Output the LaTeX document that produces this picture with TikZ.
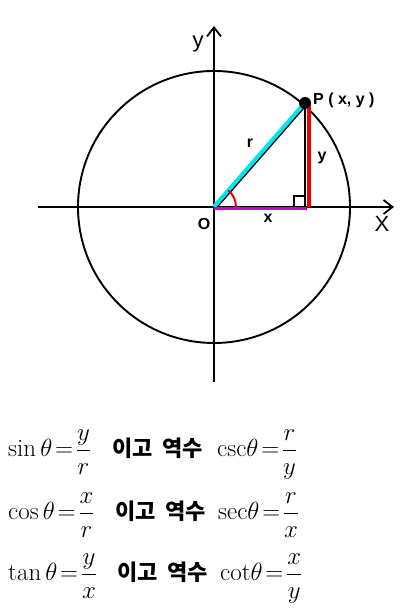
\documentclass[tikz,border=0pt]{standalone}
\usepackage{amsmath,amssymb}
\usepackage{fontspec}
\usepackage{tikz}
\usetikzlibrary{arrows.meta,positioning,calc}
\newfontfamily\lab{Liberation Sans}
\newfontfamily\kor{Noto Sans CJK KR}
\definecolor{radioc}{RGB}{0,230,240}
\definecolor{catx}{RGB}{200,0,200}
\definecolor{caty}{RGB}{240,0,0}

\begin{document}
\begin{tikzpicture}[x=1pt,y=1pt,
  ax/.style={line width=1.8pt,-{Straight Barb[length=9pt,width=14pt,line width=1.8pt]}},
  et/.style={font=\lab\bfseries\fontsize{16}{18}\selectfont,inner sep=0pt},
  ej/.style={font=\lab\fontsize{22}{24}\selectfont,inner sep=0pt},
  fm/.style={font=\fontsize{25}{30}\selectfont,inner sep=0pt,anchor=base west},
  hk/.style={font=\kor\bfseries\fontsize{22}{26}\selectfont,inner sep=0pt,anchor=base west}]
\useasboundingbox (0,0) rectangle (420,610);
% Circulo, ejes y triangulo del punto P
\coordinate (O) at (214,403);
\coordinate (P) at (305,507);
\coordinate (xi) at (38,403); \coordinate (xf) at (394,403);
\coordinate (yi) at (214,228); \coordinate (yf) at (214,584);
\coordinate (Q) at (305,403);
\draw[line width=1.9pt] (O) circle (136);
\draw[ax] (xi)--(xf);
\draw[ax] (yi)--(yf);
\draw[radioc,line width=4.5pt] (O)--(P);
\draw[line width=1.2pt] ($(O)+(1.8,-1.8)$)--($(P)+(1.8,-1.8)$);
\draw[caty,line width=4.5pt] ($(P)+(4,0)$)--($(Q)+(4,0)$);
\draw[line width=1.2pt] (P)--(Q);
\draw[catx,line width=3pt] ($(O)+(0,-1.5)$)--($(Q)+(2,-1.5)$);
\draw[line width=1.4pt] ($(Q)+(-11,0)$)--++(0,11)--++(11,0);
\draw[caty,line width=2pt] ($(O)+(22,0)$) arc (0:49:22);
\fill (P) circle (6);
\node[et,anchor=west] (nP) at (313,510) {P ( x, y )};
\node[et] (nr) at (250,467) {r};
\node[et] (ny) at (322,452) {y};
\node[et] (nx) at (268,392) {x};
\node[et] (nO) at (204,386) {O};
\node[ej] (nX) at (382,386) {X};
\node[ej] (nY) at (198,566) {y};
% Formulas
\node[fm] (s1) at (8,153) {$\sin\theta\!=\!\dfrac{y}{r}$};
\node[hk] (k1) at (112,153) {이고\ \ 역수};
\node[fm] (c1) at (217,153) {$\mathrm{csc}\theta\!=\!\dfrac{r}{y}$};
\node[fm] (s2) at (8,90) {$\cos\theta\!=\!\dfrac{x}{r}$};
\node[hk] (k2) at (115,90) {이고\ \ 역수};
\node[fm] (c2) at (218,90) {$\mathrm{sec}\theta\!=\!\dfrac{r}{x}$};
\node[fm] (s3) at (8,29) {$\tan\theta\!=\!\dfrac{y}{x}$};
\node[hk] (k3) at (117,29) {이고\ \ 역수};
\node[fm] (c3) at (220,29) {$\mathrm{cot}\theta\!=\!\dfrac{x}{y}$};
\end{tikzpicture}
\end{document}
